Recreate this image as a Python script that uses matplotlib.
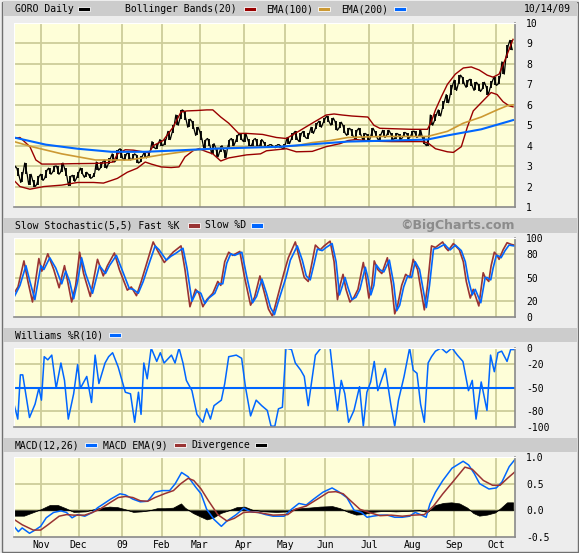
import numpy as np
import pandas as pd
import matplotlib
matplotlib.use('Agg')
from matplotlib import pyplot as plt
from matplotlib.patches import Rectangle

W, H = 579, 553

# 取引日カレンダー (2008-10-15 .. 2009-10-14)
holidays = ['2008-11-27', '2008-12-25', '2009-01-01', '2009-01-19', '2009-02-16',
            '2009-04-10', '2009-05-25', '2009-07-03', '2009-09-07']
month_labels = ['Nov', 'Dec', '09', 'Feb', 'Mar', 'Apr', 'May', 'Jun', 'Jul', 'Aug', 'Sep', 'Oct']

# 株価バー (2日おき) : 安値, 高値
bar_day = list(range(0, 252, 2))
bar_lo = [2.6, 2.5, 2.2, 2.6, 2.1, 2.0, 2.1, 2.3, 2.4, 2.6, 2.7, 2.6, 2.7, 2.5, 2.05, 2.25,
          2.4, 2.6, 2.45, 2.4, 2.45, 2.8, 2.9, 2.9, 3.1, 3.2, 3.3, 3.4, 3.3, 3.3, 3.35, 3.15,
          3.2, 3.4, 3.5, 3.9, 3.85, 4.0, 4.05, 4.3, 4.6, 5.0, 5.3, 5.25, 4.9, 4.8, 4.5, 4.3,
          3.9, 4.0, 3.6, 3.45, 3.7, 3.4, 3.9, 4.0, 4.2, 4.3, 4.2, 4.0, 4.0, 4.0, 3.95, 3.95,
          3.95, 3.95, 3.9, 3.9, 3.85, 4.1, 4.3, 4.3, 4.2, 4.4, 4.35, 4.6, 4.8, 4.9, 5.1, 5.15,
          5.0, 4.75, 4.85, 4.6, 4.5, 4.45, 4.35, 4.5, 4.3, 4.2, 4.45, 4.4, 4.25, 4.4, 4.5, 4.3,
          4.35, 4.3, 4.4, 4.35, 4.45, 4.4, 4.45, 4.1, 4.0, 5.0, 5.2, 5.45, 5.8, 6.1, 6.5, 6.7,
          7.0, 7.0, 6.85, 6.9, 6.7, 6.65, 6.75, 6.5, 6.8, 6.95, 7.0, 7.5, 8.3, 8.7]
bar_hi = [3.0, 2.9, 2.7, 3.15, 2.6, 2.3, 2.5, 2.6, 2.8, 2.9, 3.0, 3.0, 3.15, 2.9, 2.5, 2.55,
          2.7, 2.9, 2.7, 2.6, 2.65, 3.2, 3.2, 3.3, 3.4, 3.6, 3.8, 3.85, 3.6, 3.65, 3.6, 3.55,
          3.5, 3.65, 3.75, 4.2, 4.1, 4.3, 4.35, 4.7, 5.0, 5.5, 5.75, 5.7, 5.3, 5.2, 4.9, 4.7,
          4.3, 4.35, 4.1, 3.9, 4.0, 3.8, 4.3, 4.35, 4.5, 4.6, 4.6, 4.35, 4.3, 4.35, 4.3, 4.2,
          4.05, 4.05, 4.05, 4.05, 4.1, 4.4, 4.6, 4.7, 4.6, 4.7, 4.6, 4.9, 5.1, 5.2, 5.35, 5.45,
          5.35, 5.2, 5.15, 5.0, 4.85, 4.8, 4.75, 4.85, 4.6, 4.55, 4.85, 4.7, 4.55, 4.75, 4.75, 4.6,
          4.6, 4.55, 4.65, 4.6, 4.7, 4.7, 4.75, 4.4, 4.3, 5.5, 5.55, 5.75, 6.2, 6.5, 6.95, 7.2,
          7.45, 7.35, 7.2, 7.25, 7.1, 7.0, 7.1, 6.9, 7.15, 7.35, 7.4, 8.1, 8.9, 9.15]

# ボリンジャーバンド(20) 上限・下限 (日, 値)
bb_upper = [(0, 4.35), (3, 4.4), (8, 3.95), (11, 3.3), (14, 3.1), (20, 3.1), (30, 3.12), (40, 3.13),
            (45, 3.15), (50, 3.2), (52, 3.6), (56, 3.8), (60, 3.78), (65, 3.7), (68, 3.65), (70, 4.0),
            (75, 4.25), (80, 4.9), (84, 5.65), (87, 5.7), (92, 5.72), (97, 5.75), (100, 5.75),
            (104, 5.4), (108, 5.1), (113, 4.6), (117, 4.6), (125, 4.55), (132, 4.4), (137, 4.35),
            (144, 4.75), (150, 5.1), (157, 5.5), (161, 5.55), (165, 5.5), (170, 5.45), (178, 5.4),
            (181, 5.0), (184, 4.85), (200, 4.8), (208, 4.8), (210, 5.2), (212, 5.75), (215, 6.4),
            (218, 7.0), (222, 7.5), (226, 7.8), (230, 7.85), (234, 7.7), (238, 7.45), (241, 7.35),
            (244, 7.5), (247, 8.2), (251, 9.2)]
bb_lower = [(0, 2.3), (3, 2.0), (8, 1.87), (15, 2.0), (24, 2.07), (32, 2.2), (40, 2.2), (45, 2.17),
            (49, 2.3), (52, 2.4), (57, 2.7), (62, 2.9), (66, 3.2), (69, 3.1), (74, 2.96), (79, 2.93),
            (83, 2.96), (86, 3.45), (90, 3.75), (93, 3.85), (97, 3.7), (100, 3.6), (104, 3.25),
            (108, 3.4), (117, 3.55), (124, 3.6), (127, 3.75), (132, 3.8), (137, 3.85), (142, 3.7),
            (150, 3.72), (157, 3.95), (164, 4.1), (168, 4.25), (172, 4.3), (180, 4.22), (190, 4.2),
            (205, 4.2), (208, 4.15), (212, 3.85), (218, 3.7), (221, 3.67), (225, 3.95), (228, 4.9),
            (231, 5.7), (235, 6.1), (240, 6.6), (243, 6.5), (246, 6.15), (249, 5.95), (251, 5.9)]
ema100 = [(0, 4.2), (9, 3.95), (24, 3.6), (41, 3.3), (49, 3.3), (58, 3.3), (66, 3.42), (74, 3.55),
          (85, 3.7), (92, 3.8), (108, 3.9), (125, 3.95), (134, 3.95), (142, 4.0), (150, 4.15),
          (159, 4.25), (168, 4.4), (185, 4.45), (208, 4.45), (218, 4.7), (226, 5.1), (235, 5.4),
          (243, 5.75), (248, 5.95), (251, 6.0)]
ema200 = [(0, 4.4), (16, 4.05), (32, 3.85), (49, 3.7), (66, 3.7), (85, 3.78), (100, 3.85),
          (117, 3.9), (134, 3.95), (150, 4.07), (168, 4.2), (190, 4.25), (208, 4.3), (218, 4.5),
          (235, 4.8), (251, 5.25)]

# スローストキャスティクス(5,5)
stoch_k = [(0, 30), (2, 38), (5, 71), (7, 45), (9.3, 19), (12.5, 74), (14, 58), (17, 80), (20, 60),
           (22.7, 37), (25.4, 65), (27, 45), (29, 19), (31, 40), (33, 82), (35, 55), (38.4, 26),
           (42, 73), (44.9, 52), (47, 65), (50.5, 81), (53, 60), (57, 34), (59, 38), (61.6, 27),
           (64, 45), (67, 70), (70, 95), (72, 85), (75.6, 69), (78, 76), (80, 82), (84, 90), (86, 60),
           (88.5, 13), (91.3, 35), (93, 30), (95, 13), (97, 22), (100, 30), (102.5, 45), (104, 40),
           (106, 70), (108, 82), (110, 78), (113.6, 83), (116, 50), (119, 15), (121, 25), (123.7, 52),
           (126, 30), (128, 10), (130, 1), (132, 20), (135.8, 56), (138, 75), (141.5, 95), (144, 70),
           (146, 50), (148, 45), (150, 70), (151.6, 91), (154, 85), (156, 90), (159, 96), (161, 70),
           (162.7, 22), (164, 40), (165.5, 54), (167, 35), (169, 19), (171, 25), (173, 35),
           (175.7, 69), (177, 50), (178.5, 24), (180, 40), (181.2, 71), (183, 60), (185, 55),
           (187.8, 75), (190, 40), (191.5, 4), (193, 15), (195, 40), (197, 54), (199, 50),
           (200.8, 73), (203, 60), (205, 30), (206.4, 9), (208, 40), (210, 90), (212, 88),
           (215.6, 95), (217, 88), (218.4, 84), (221, 93), (224, 85), (226, 70), (227.5, 45),
           (229.5, 24), (231, 35), (233.8, 14), (236, 56), (237, 50), (238.8, 45), (240, 65),
           (241.6, 82), (243, 78), (244, 73), (246, 85), (248, 94), (250, 92), (251.5, 91)]
stoch_d = [(0, 25), (3, 40), (6, 65), (8, 45), (10.5, 22), (13.5, 65), (15, 60), (18, 75), (21, 62),
           (24, 42), (26, 58), (28, 45), (30, 23), (32, 45), (34, 75), (36, 55), (39.5, 30), (43, 65),
           (46, 55), (48, 65), (51.5, 78), (54, 62), (58, 36), (60, 35), (62.5, 30), (65, 45), (68, 68),
           (71, 90), (73, 85), (76.6, 72), (79, 77), (81, 80), (85, 87), (87, 62), (89.5, 20), (92, 33),
           (94, 30), (96, 17), (98, 24), (101, 30), (103, 42), (105, 42), (107, 68), (109, 80),
           (111, 78), (114.6, 82), (117, 52), (120, 18), (122, 26), (124.7, 48), (127, 30), (129, 12),
           (131, 3), (133, 20), (136.8, 50), (139, 72), (142.5, 90), (145, 72), (147, 52), (149, 47),
           (151, 68), (152.6, 86), (155, 84), (157, 88), (160, 93), (162, 70), (163.7, 28), (165, 38),
           (166.5, 50), (168, 37), (170, 22), (172, 25), (174, 35), (176.7, 63), (178, 50),
           (179.5, 28), (181, 40), (182.2, 66), (184, 60), (186, 57), (188.8, 72), (191, 42),
           (192.5, 8), (194, 15), (196, 38), (198, 52), (200, 50), (201.8, 70), (204, 60), (206, 32),
           (207.4, 12), (209, 40), (211, 86), (213, 87), (216.6, 92), (218, 88), (219.4, 85),
           (222, 91), (225, 84), (227, 70), (228.5, 48), (230.5, 28), (232, 35), (234.8, 18),
           (237, 50), (238, 50), (239.8, 47), (241, 62), (242.6, 78), (244, 77), (245, 75), (247, 84),
           (249, 91), (251.5, 90)]

# ウィリアムズ %R(10)
williams = [(0, -71), (1.9, -90), (3.2, -34), (4.4, -34), (7.8, -88), (10.6, -71), (12.5, -51),
            (13.8, -66), (15.2, -11), (17, -15), (19, -9), (21.2, -51), (23.6, -19), (25.4, -41),
            (27.3, -90), (30, -58), (32, -21), (33.4, -51), (36.6, -36), (39, -69), (40.8, -9),
            (42.7, -45), (45.8, -19), (47.6, -11), (49.6, -6), (52.4, -24), (56, -56), (58.6, -58),
            (60.7, -94), (62.6, -56), (63.9, -84), (65.3, -19), (67, -39), (69, 0), (71.8, -17),
            (73.6, -6), (75.5, -19), (79.2, -9), (81, -19), (83, 0), (85, -19), (86.7, -41),
            (89.5, -54), (92, -84), (95, -94), (96.9, -77), (98.8, -90), (100.6, -73), (104.3, -66),
            (106, -45), (108, -11), (111.8, -9), (114.5, -13), (116.4, -49), (119, -86), (121.8, -66),
            (124.6, -73), (127.4, -79), (129.3, -99), (131.2, -99), (133, -77), (135, -75),
            (136.8, 0), (139.6, -2), (141.5, -19), (144.2, -28), (146, -36), (148, -73),
            (149.8, -41), (151.6, -9), (154.4, 0), (159, 0), (160.9, -43), (162.7, -79),
            (164.6, -41), (166.4, -58), (168.3, -94), (171, -79), (173.8, -49), (175.7, -99),
            (177.5, -56), (179.4, -43), (181.2, -17), (183, -54), (186.8, -26), (189.5, -71),
            (191.5, -99), (193.4, -66), (196.2, -36), (199, 0), (200.8, -28), (202.7, -32),
            (204.5, -71), (206.4, -94), (208.3, -19), (210, -11), (212, -4), (214.8, 0), (217.5, -6),
            (220.3, 0), (223, -9), (225.8, -17), (228.6, -54), (230.5, -41), (232.4, -90),
            (235, -43), (237.9, -79), (239.7, -9), (241.6, -30), (243.4, -6), (245.3, -4),
            (248, -17), (249.8, -2), (251.7, -2)]

# MACD(12,26), シグナル EMA(9), ダイバージェンス
macd = [(0, -0.30), (2.2, -0.40), (4.1, -0.33), (7.8, -0.43), (10.6, -0.37), (13.4, -0.30),
        (16.2, -0.14), (19.9, -0.04), (23.6, -0.01), (26.4, -0.04), (29.2, -0.14), (32, -0.08),
        (35.6, -0.11), (39.4, -0.04), (42.1, 0.05), (45, 0.12), (48.6, 0.21), (53.3, 0.31),
        (56, 0.29), (59.8, 0.21), (63.5, 0.16), (67.2, 0.17), (70.9, 0.34), (74.6, 0.37),
        (78.3, 0.37), (81.1, 0.5), (84.3, 0.71), (87.6, 0.63), (91.3, 0.44), (94.1, 0.31),
        (96.9, 0.02), (100.6, -0.17), (104.3, -0.30), (107.1, -0.2), (111.8, -0.08), (115.5, 0.04),
        (119.2, -0.03), (122.9, -0.04), (126.6, -0.08), (130.3, -0.11), (135.9, -0.11),
        (139.6, 0.02), (143.3, 0.13), (147, 0.10), (150.7, 0.21), (155.4, 0.34), (160, 0.42),
        (163.7, 0.34), (167.4, 0.24), (171.1, 0.0), (174.8, -0.04), (177.6, -0.13), (180.4, -0.11),
        (184.1, -0.09), (187.8, -0.09), (191.5, -0.13), (195.3, -0.13), (199, -0.11),
        (201.8, -0.04), (204.5, -0.08), (207.3, -0.13), (209.2, 0.12), (212, 0.34), (215.7, 0.56),
        (220.3, 0.79), (225.9, 0.92), (228.7, 0.85), (231.5, 0.69), (234.2, 0.5), (238.9, 0.40),
        (242.6, 0.42), (245.4, 0.53), (249.1, 0.82), (251.9, 0.95)]
macd_signal = [(0, -0.17), (4.1, -0.27), (9.7, -0.37), (13.4, -0.37), (17.1, -0.27), (22.7, -0.11),
               (26.4, -0.08), (30, -0.09), (35.6, -0.09), (39.4, -0.04), (43.1, 0.02), (47.7, 0.13),
               (52.4, 0.24), (56.1, 0.26), (59.8, 0.24), (63.5, 0.18), (67.2, 0.17), (70.9, 0.24),
               (75.6, 0.31), (80.2, 0.37), (83.9, 0.5), (87.6, 0.6), (90.4, 0.56), (94.1, 0.4),
               (97.8, 0.18), (102.5, -0.08), (107.1, -0.2), (110.8, -0.15), (115.5, -0.04),
               (119.2, -0.03), (122.9, -0.04), (130.3, -0.09), (137.7, -0.08), (141.4, 0.02),
               (147, 0.08), (152.6, 0.21), (158.1, 0.34), (161.9, 0.35), (165.6, 0.31),
               (169.3, 0.18), (174, 0.02), (178.6, -0.04), (184.1, -0.1), (189.7, -0.09),
               (195.3, -0.11), (200.8, -0.09), (206.4, -0.08), (211, 0.08), (215.7, 0.31),
               (221.3, 0.56), (226.8, 0.81), (230.5, 0.77), (236.1, 0.56), (240.7, 0.47),
               (244.5, 0.47), (248.2, 0.6), (251.9, 0.72)]
divergence = [(0, -0.10), (5, -0.10), (10, -0.03), (14, 0.03), (18, 0.10), (22, 0.10), (26, 0.04),
              (30, -0.03), (36, -0.02), (40, 0.02), (44, 0.05), (48, 0.07), (52, 0.06), (56, 0.02),
              (60, -0.03), (64, -0.02), (68, 0.0), (72, 0.04), (76, 0.04), (80, 0.05), (84, 0.13),
              (86, 0.05), (90, -0.05), (94, -0.12), (97, -0.17), (100, -0.14), (104, -0.05),
              (108, 0.0), (112, 0.06), (116, 0.07), (120, 0.01), (126, -0.02), (132, -0.03),
              (138, -0.02), (142, 0.04), (148, 0.05), (154, 0.07), (160, 0.08), (164, 0.04),
              (168, -0.03), (172, -0.08), (176, -0.07), (180, -0.03), (186, -0.01), (192, -0.02),
              (198, -0.01), (204, 0.0), (208, -0.03), (212, 0.10), (216, 0.14), (220, 0.15),
              (224, 0.13), (228, 0.05), (231, -0.05), (234, -0.10), (238, -0.08), (242, -0.04),
              (245, 0.05), (248, 0.15), (251, 0.15)]


def xy(pairs):
    return [p[0] for p in pairs], [p[1] for p in pairs]


def fx(px):
    return px / W


def fy(py):
    return 1 - py / H


FONT = 'DejaVu Sans Mono'
GRID = '#cdcd99'
FACE = '#fefed8'
BLUE = '#0066ff'
plt.rcParams['axes.unicode_minus'] = False
plt.rcParams['font.family'] = FONT

days = pd.bdate_range('2008-10-15', '2009-10-14')
days = days[~days.isin(pd.to_datetime(holidays))]
month_pos = [i + 0.5 for i in range(1, len(days)) if days[i].month != days[i - 1].month]

fig = plt.figure(figsize=(W / 100, H / 100), dpi=100)
fig.patch.set_facecolor('#ededed')
fig.add_artist(Rectangle((fx(2), fy(552)), fx(575.5), 550 / H, transform=fig.transFigure,
                         fill=False, edgecolor='#707070', lw=1))


def header(y0, y1):
    fig.add_artist(Rectangle((fx(3), fy(y1)), fx(574), (y1 - y0) / H, transform=fig.transFigure,
                             facecolor='#cccccc', edgecolor='none'))


def label(px, py, s, **kw):
    fig.text(fx(px), fy(py), s, fontsize=7, va='center', ha='left', family=FONT, **kw)


def swatch(px, py, color):
    fig.add_artist(Rectangle((fx(px), fy(py + 2)), fx(12), 4 / H, transform=fig.transFigure,
                             facecolor=color, edgecolor='white', lw=0.6))


def panel(y0, y1, ylim, yticks, ylabels):
    ax = fig.add_axes([fx(14), fy(y1), fx(501), (y1 - y0) / H])
    ax.set_facecolor(FACE)
    ax.set_xlim(0, 252)
    ax.set_ylim(*ylim)
    ax.set_yticks(yticks)
    ax.set_yticklabels(ylabels, family=FONT, fontsize=7)
    ax.yaxis.tick_right()
    ax.tick_params(axis='y', length=0, pad=8)
    ax.set_xticks(month_pos)
    ax.tick_params(axis='x', length=0, labelbottom=False)
    for m in month_pos:
        ax.axvline(m, color=GRID, lw=1.3, zorder=0)
    for t in yticks:
        if ylim[0] < t < ylim[1]:
            ax.axhline(t, color=GRID, lw=1.3, zorder=0)
    for s in ['top', 'left']:
        ax.spines[s].set_color('white')
    for s in ['bottom', 'right']:
        ax.spines[s].set_color('#8a8a8a')
        ax.spines[s].set_linewidth(1.2)
    return ax


# --- 株価パネル ---
header(1, 16)
label(15, 9, 'GORO Daily')
swatch(78, 9, 'black')
label(125, 9, 'Bollinger Bands(20)')
swatch(244, 9, '#990000')
label(266, 9, 'EMA(100)')
swatch(318, 9, '#cc9933')
label(341, 9, 'EMA(200)')
swatch(394, 9, BLUE)
label(524, 9, '10/14/09')

ax1 = panel(23, 207, (1, 10), list(range(1, 11)), [str(v) for v in range(1, 11)])
ax1.vlines(bar_day, bar_lo, bar_hi, color='black', lw=1.3)
# 始値・終値のティックの代わりに各バーをジグザグでつなぐ
zig_x, zig_y = [], []
for i, (d, lo, hi) in enumerate(zip(bar_day, bar_lo, bar_hi)):
    zig_x += [d - 0.6, d + 0.6]
    zig_y += [lo, hi] if i % 2 == 0 else [hi, lo]
ax1.plot(zig_x, zig_y, color='black', lw=0.9)
ax1.plot(*xy(bb_upper), color='#990000', lw=1.0)
ax1.plot(*xy(bb_lower), color='#990000', lw=1.0)
ax1.plot(*xy(ema100), color='#cc9933', lw=1.2)
ax1.plot(*xy(ema200), color=BLUE, lw=1.5)

# --- ストキャスティクス ---
header(218, 233)
label(15, 225.5, 'Slow Stochastic(5,5) Fast %K')
swatch(188, 225.5, '#993333')
label(205, 225.5, 'Slow %D')
swatch(251, 225.5, BLUE)
fig.text(fx(515), fy(225.5), '\u00a9BigCharts.com', fontsize=9, fontweight='bold',
         color='#8c8c8c', ha='right', va='center', family='DejaVu Sans')
ax2 = panel(238, 317, (0, 100), [0, 20, 50, 80, 100], ['0', '20', '50', '80', '100'])
ax2.plot(*xy(stoch_k), color='#993333', lw=1.2)
ax2.plot(*xy(stoch_d), color=BLUE, lw=1.2)

# --- ウィリアムズ %R ---
header(328, 342)
label(15, 335, 'Williams %R(10)')
swatch(109, 335, BLUE)
ax3 = panel(348, 427, (-100, 0), [0, -20, -50, -80, -100], ['0', '-20', '-50', '-80', '-100'])
ax3.axhline(-50, color=BLUE, lw=1.5)
ax3.plot(*xy(williams), color=BLUE, lw=1.1)

# --- MACD ---
header(438, 452)
label(15, 445, 'MACD(12,26)')
swatch(85, 445, BLUE)
label(103, 445, 'MACD EMA(9)')
swatch(174, 445, '#993333')
label(191, 445, 'Divergence')
swatch(255, 445, 'black')
ax4 = panel(457, 537, (-0.5, 1.0), [1.0, 0.5, 0.0, -0.5], ['1.0', '0.5', '0.0', '-0.5'])
dx, dv = xy(divergence)
ax4.fill_between(dx, 0, dv, color='black', lw=0.5)
ax4.plot(*xy(macd), color=BLUE, lw=1.1)
ax4.plot(*xy(macd_signal), color='#993333', lw=1.1)
ax4.tick_params(axis='x', labelbottom=True, pad=2)
ax4.set_xticklabels(month_labels, family=FONT, fontsize=7)

fig.savefig('out.png', dpi=100, facecolor=fig.get_facecolor())
